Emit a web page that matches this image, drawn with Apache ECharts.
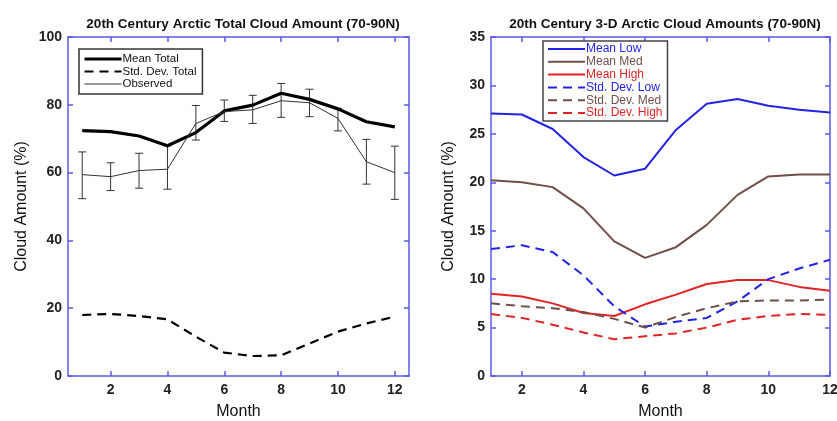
<!DOCTYPE html>
<html>
<head>
<meta charset="utf-8">
<script src="https://cdn.jsdelivr.net/npm/echarts@6/dist/echarts.min.js"></script>
<style>
  html, body { margin: 0; padding: 0; background: #fff; }
  #main { width: 837px; height: 421px; }
</style>
</head>
<body>
<div id="main"></div>
<script>
// months
var months = [1, 2, 3, 4, 5, 6, 7, 8, 9, 10, 11, 12];
var monthTicks = [2, 4, 6, 8, 10, 12];

// left panel: total cloud amount
var meanTotal = [72.4, 72.1, 70.8, 67.9, 71.8, 78.2, 79.9, 83.4, 81.6, 78.8, 75.0, 73.5];
var stdTotal = [18.0, 18.3, 17.7, 16.7, 11.6, 6.9, 5.9, 6.1, 9.6, 13.1, 15.5, 17.5];
var observed = [59.4, 58.8, 60.6, 61.0, 74.5, 78.0, 78.5, 81.2, 80.6, 76.0, 63.2, 60.0];
var obsHigh = [66.1, 62.9, 65.7, 67.9, 79.8, 81.4, 82.8, 86.3, 84.6, 79.0, 69.8, 67.8];
var obsLow = [52.3, 54.7, 55.4, 55.1, 69.6, 75.1, 74.5, 76.3, 76.5, 72.3, 56.6, 52.1];

// right panel: 3-D cloud amounts
var meanLow = [27.1, 27.0, 25.5, 22.6, 20.7, 21.4, 25.4, 28.1, 28.6, 27.9, 27.5, 27.2];
var meanMed = [20.2, 20.0, 19.5, 17.3, 13.9, 12.2, 13.3, 15.6, 18.7, 20.6, 20.8, 20.8];
var meanHigh = [8.5, 8.2, 7.5, 6.5, 6.2, 7.4, 8.4, 9.5, 9.9, 9.9, 9.2, 8.8];
var stdLow = [13.1, 13.5, 12.8, 10.4, 7.2, 5.1, 5.6, 6.0, 7.7, 10.0, 11.1, 12.0];
var stdMed = [7.5, 7.2, 7.0, 6.6, 5.9, 5.0, 6.1, 7.0, 7.7, 7.8, 7.8, 7.9];
var stdHigh = [6.4, 6.0, 5.3, 4.5, 3.8, 4.1, 4.4, 5.0, 5.8, 6.2, 6.4, 6.3];

var BLUE = '#2323e6', BROWN = '#6e5048', RED = '#e02424';
var AXIS = '#5a5ae8';
var FONT = 'Liberation Sans';

function pairs(ys) {
  return months.map(function (m, i) { return [m, ys[i]]; });
}

function xAx(grid, pos, min, max, showLabel, name) {
  return {
    type: 'value', gridIndex: grid, position: pos, min: min, max: max,
    name: name || '', nameLocation: 'middle', nameGap: 28,
    nameTextStyle: { fontFamily: FONT, fontSize: 16, color: '#111' },
    splitLine: { show: false },
    axisLine: { show: true, onZero: false, lineStyle: { color: AXIS, width: 1.5 } },
    axisTick: { show: true, inside: true, length: 5, customValues: monthTicks, lineStyle: { color: AXIS, width: 1.5 } },
    axisLabel: { show: showLabel, customValues: monthTicks, fontFamily: FONT, fontSize: 14, fontWeight: 'bold', color: '#222', margin: 7 }
  };
}

function yAx(grid, pos, max, interval, showLabel, name, gap) {
  return {
    type: 'value', gridIndex: grid, position: pos, min: 0, max: max, interval: interval,
    name: name || '', nameLocation: 'middle', nameGap: gap || 40, nameRotate: 90,
    nameTextStyle: { fontFamily: FONT, fontSize: 16, color: '#111' },
    splitLine: { show: false },
    axisLine: { show: true, onZero: false, lineStyle: { color: AXIS, width: 1.5 } },
    axisTick: { show: true, inside: true, length: 5, lineStyle: { color: AXIS, width: 1.5 } },
    axisLabel: { show: showLabel, fontFamily: FONT, fontSize: 14, fontWeight: 'bold', color: '#222', margin: 6 }
  };
}

function line(name, data, color, width, dashed, xi, yi) {
  return {
    name: name, type: 'line', data: pairs(data), xAxisIndex: xi, yAxisIndex: yi,
    symbol: 'none', smooth: false, z: 3,
    lineStyle: { color: color, width: width, type: dashed ? [9, 6] : 'solid' },
    itemStyle: { color: color }
  };
}

var errData = months.map(function (m, i) { return [m, obsLow[i], obsHigh[i]]; });

var chart = echarts.init(document.getElementById('main'), null, { renderer: 'canvas' });
var option = {
  animation: false,
  backgroundColor: '#fff',
  title: [
    { text: '20th Century Arctic Total Cloud Amount (70-90N)', left: 238, top: 12, textAlign: 'center',
      textStyle: { fontFamily: FONT, fontSize: 13.5, fontWeight: 'bold', color: '#111' } },
    { text: '20th Century 3-D Arctic Cloud Amounts (70-90N)', left: 660, top: 12, textAlign: 'center',
      textStyle: { fontFamily: FONT, fontSize: 13.5, fontWeight: 'bold', color: '#111' } }
  ],
  grid: [
    { left: 68, right: 428, top: 37, bottom: 45, outerBoundsMode: 'none' },
    { left: 491, right: 7, top: 37, bottom: 45, outerBoundsMode: 'none' }
  ],
  xAxis: [
    xAx(0, 'bottom', 0.5, 12.5, true, 'Month'),
    xAx(0, 'top', 0.5, 12.5, false),
    xAx(1, 'bottom', 1, 12, true, 'Month'),
    xAx(1, 'top', 1, 12, false)
  ],
  yAxis: [
    yAx(0, 'left', 100, 20, true, 'Cloud Amount (%)', 38),
    yAx(0, 'right', 100, 20, false),
    yAx(1, 'left', 35, 5, true, 'Cloud Amount (%)', 34),
    yAx(1, 'right', 35, 5, false)
  ],
  legend: [
    {
      orient: 'vertical', left: 79, top: 49, padding: [4, 6, 4, 4],
      itemWidth: 37, itemHeight: 10, itemGap: 0.5,
      itemStyle: { opacity: 0 },
      borderColor: '#333', borderWidth: 1.5, backgroundColor: '#fff',
      textStyle: { fontFamily: FONT, fontSize: 11.5, lineHeight: 10.5, color: '#111', padding: [0, 0, 0, -4] },
      data: [
        { name: 'Mean Total', lineStyle: { width: 3 } },
        { name: 'Std. Dev. Total', lineStyle: { width: 2.2 } },
        { name: 'Observed', lineStyle: { width: 1.2 } }
      ]
    },
    {
      orient: 'vertical', left: 543, top: 41, padding: [2, 5, 2, 4],
      itemWidth: 37, itemHeight: 11, itemGap: 0.8,
      itemStyle: { opacity: 0 },
      borderColor: '#444', borderWidth: 1.5, backgroundColor: '#fff',
      textStyle: { fontFamily: FONT, fontSize: 12, lineHeight: 11.5, padding: [0, 0, 0, -4] },
      data: [
        { name: 'Mean Low', textStyle: { color: BLUE } },
        { name: 'Mean Med', textStyle: { color: BROWN } },
        { name: 'Mean High', textStyle: { color: RED } },
        { name: 'Std. Dev. Low', textStyle: { color: BLUE } },
        { name: 'Std. Dev. Med', textStyle: { color: BROWN } },
        { name: 'Std. Dev. High', textStyle: { color: RED } }
      ]
    }
  ],
  series: [
    line('Mean Total', meanTotal, '#000', 3.2, false, 0, 0),
    line('Std. Dev. Total', stdTotal, '#000', 2.2, true, 0, 0),
    line('Observed', observed, '#333', 1, false, 0, 0),
    {
      name: 'obs error', type: 'custom', xAxisIndex: 0, yAxisIndex: 0, data: errData, z: 2,
      renderItem: function (params, api) {
        var x = api.value(0);
        var lo = api.coord([x, api.value(1)]);
        var hi = api.coord([x, api.value(2)]);
        var cap = 4;
        var st = { stroke: '#333', lineWidth: 1 };
        return {
          type: 'group',
          children: [
            { type: 'line', shape: { x1: lo[0], y1: lo[1], x2: hi[0], y2: hi[1] }, style: st },
            { type: 'line', shape: { x1: lo[0] - cap, y1: lo[1], x2: lo[0] + cap, y2: lo[1] }, style: st },
            { type: 'line', shape: { x1: hi[0] - cap, y1: hi[1], x2: hi[0] + cap, y2: hi[1] }, style: st }
          ]
        };
      }
    },
    line('Mean Low', meanLow, BLUE, 2, false, 2, 2),
    line('Mean Med', meanMed, BROWN, 2, false, 2, 2),
    line('Mean High', meanHigh, RED, 2, false, 2, 2),
    line('Std. Dev. Low', stdLow, BLUE, 2, true, 2, 2),
    line('Std. Dev. Med', stdMed, BROWN, 2, true, 2, 2),
    line('Std. Dev. High', stdHigh, RED, 2, true, 2, 2)
  ]
};
chart.setOption(option);
</script>
</body>
</html>
